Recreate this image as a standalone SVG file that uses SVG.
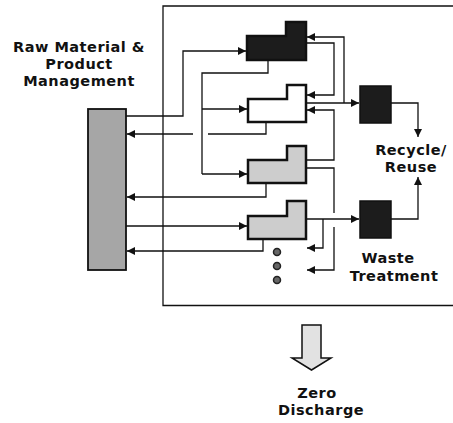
<svg xmlns="http://www.w3.org/2000/svg" width="453" height="423" viewBox="0 0 453 423">
<style>
.lbl{font-family:"DejaVu Sans","Verdana",sans-serif;font-weight:bold;font-size:14.5px;letter-spacing:0.5px;fill:#111;text-anchor:middle}
.blk{stroke:#111;stroke-width:2.5;stroke-linejoin:miter}
.dark{fill:#1c1c1c}
.white{fill:#fff}
.light{fill:#cdcdcd}
.ln{fill:none;stroke:#111;stroke-width:1.3}
.arr{marker-end:url(#ah)}
</style>
<defs>
<marker id="ah" markerUnits="userSpaceOnUse" markerWidth="9" markerHeight="8" refX="8" refY="4" orient="auto">
<path d="M0,0 L8,4 L0,8 z" fill="#111"/>
</marker>
</defs>
<rect width="453" height="423" fill="#fff"/>

<g id="outer-box">
<path class="ln" d="M453,6 L163,6 L163,305.5 L453,305.5" stroke-width="1.5"/>
</g>

<g id="raw-material">
<rect x="88" y="109" width="38" height="161" fill="#a6a6a6" stroke="#111" stroke-width="1.8"/>
<text class="lbl" x="79" y="52">Raw Material &amp;</text>
<text class="lbl" x="79" y="69">Product</text>
<text class="lbl" x="79" y="86">Management</text>
</g>

<g id="unit1"><polygon class="blk dark" points="247,36 286,36 286,22 306,22 306,60 247,60"/></g>
<g id="unit2"><polygon class="blk white" points="248,99 287,99 287,85 306,85 306,122 248,122"/></g>
<g id="unit3"><polygon class="blk light" points="248,160 287,160 287,146 306,146 306,183 248,183"/></g>
<g id="unit4"><polygon class="blk light" points="248,216 287,216 287,201 306,201 306,239 248,239"/></g>

<g id="more-units">
<circle cx="277" cy="252" r="3.5" fill="#666" stroke="#222" stroke-width="1.5"/>
<circle cx="277" cy="266" r="3.5" fill="#666" stroke="#222" stroke-width="1.5"/>
<circle cx="277" cy="280" r="3.5" fill="#666" stroke="#222" stroke-width="1.5"/>
</g>

<g id="recycle-box"><rect x="360" y="86" width="31" height="37" fill="#1c1c1c" stroke="#111" stroke-width="1.5"/></g>
<g id="treatment-box"><rect x="360" y="201" width="31" height="37" fill="#1c1c1c" stroke="#111" stroke-width="1.5"/></g>

<g id="recycle-reuse">
<text class="lbl" x="411" y="155">Recycle/</text>
<text class="lbl" x="411" y="172">Reuse</text>
</g>
<g id="waste-treatment">
<text class="lbl" x="388" y="263">Waste</text>
<text class="lbl" x="394" y="281">Treatment</text>
</g>

<g id="zero-discharge">
<path d="M302,325 L321,325 L321,358 L331,358 L311.5,370 L292,358 L302,358 Z" fill="#e2e2e2" stroke="#111" stroke-width="1.5" stroke-linejoin="miter"/>
<text class="lbl" x="317" y="398">Zero</text>
<text class="lbl" x="321" y="415">Discharge</text>
</g>

<g id="connectors">
<path class="ln arr" d="M126,116 L183,116 L183,51 L246,51"/>
<path class="ln" d="M266,122 L266,134 L208,134"/>
<path class="ln arr" d="M193,134 L127,134"/>
<path class="ln" d="M268,60 L268,73 L202,73 L202,174"/>
<path class="ln arr" d="M202,109 L247,109"/>
<path class="ln arr" d="M202,174 L247,174"/>
<path class="ln arr" d="M266,183 L266,197 L127,197"/>
<path class="ln arr" d="M126,226 L247,226"/>
<path class="ln arr" d="M263,239 L263,251 L127,251"/>
<path class="ln arr" d="M306,43 L334,43 L334,95 L307,95"/>
<path class="ln arr" d="M344,103 L344,37 L307,37"/>
<path class="ln arr" d="M306,103 L359,103"/>
<path class="ln arr" d="M306,160 L334,160 L334,110 L307,110"/>
<path class="ln" d="M306,168 L334,168 L334,213"/>
<path class="ln arr" d="M334,227 L334,270 L307,270"/>
<path class="ln arr" d="M306,219 L359,219"/>
<path class="ln arr" d="M323,219 L323,248 L307,248"/>
<path class="ln arr" d="M391,103 L418,103 L418,137"/>
<path class="ln arr" d="M391,219 L418,219 L418,177"/>
</g>
</svg>
